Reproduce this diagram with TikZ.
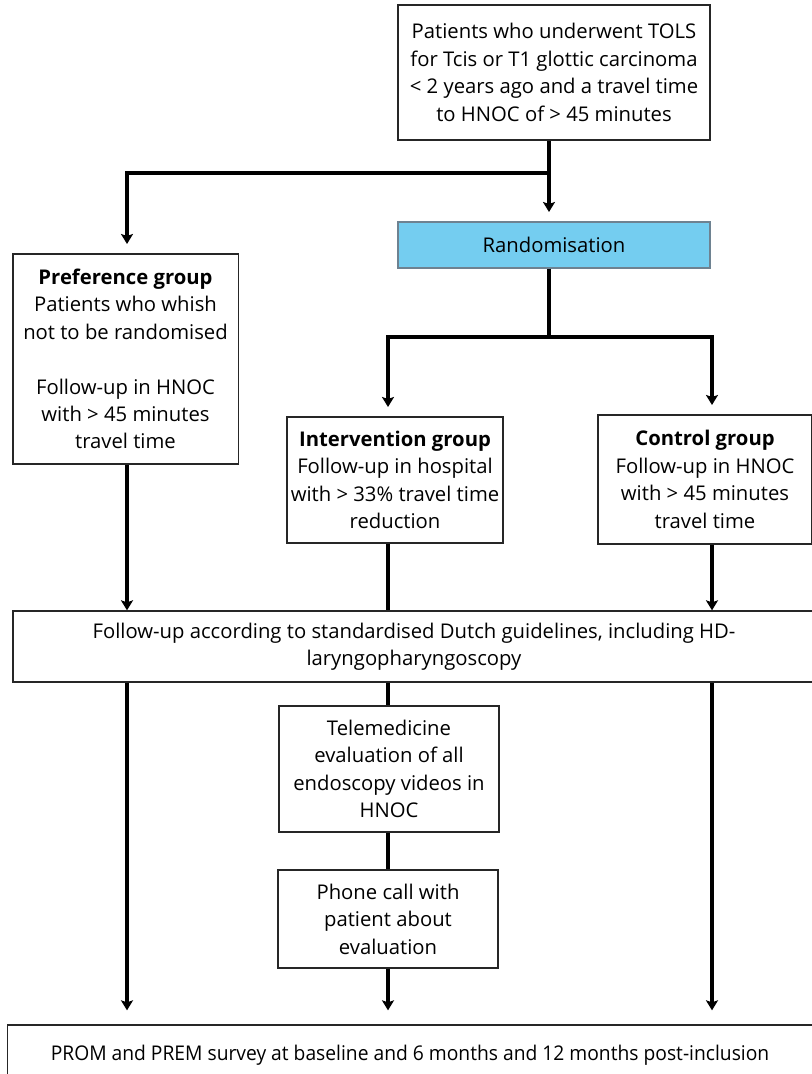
\documentclass[tikz,border=0pt]{standalone}
\usepackage{fontspec}
\setmainfont{Open Sans}
\newfontfamily\condfont{Open Sans}[FakeStretch=0.95]
\usepackage{tikz}
\usetikzlibrary{arrows.meta, positioning, calc}
\definecolor{randblue}{RGB}{116,205,240}
\definecolor{randedge}{RGB}{110,130,145}

\tikzset{
    flowbox/.style={draw=black!85, line width=1pt, align=center, inner sep=0pt,
                    font=\fontsize{15.2}{20.6}\selectfont},
    flowline/.style={line width=2.4pt, black},
    flowarrow/.style={flowline, -{Stealth[length=7.5pt, width=9pt, inset=1.5pt]}, shorten >=7pt},
}

\begin{document}
\begin{tikzpicture}[x=0.75pt, y=-0.75pt]
    \useasboundingbox (0,0) rectangle (812,1074);

    % boxes
    \node[flowbox, minimum width=234pt, minimum height=101pt] (patients) at (554,72.5)
        {Patients who underwent TOLS\\for Tcis or T1 glottic carcinoma\\< 2 years ago and a travel time\\to HNOC of > 45 minutes};
    \node[flowbox, fill=randblue, draw=randedge, minimum width=234pt, minimum height=34.5pt] (rand) at (554,245)
        {Randomisation};
    \node[flowbox, minimum width=169pt, minimum height=157.5pt] (pref) at (125.5,359)
        {\textbf{Preference group}\\Patients who whish\\not to be randomised\\[20.5pt]Follow-up in HNOC\\with > 45 minutes\\travel time};
    \node[flowbox, minimum width=162pt, minimum height=94.5pt] (interv) at (395,480)
        {\textbf{Intervention group}\\Follow-up in hospital\\with > 33\% travel time\\reduction};
    \node[flowbox, minimum width=160.5pt, minimum height=96.75pt] (control) at (705,479.5)
        {\textbf{Control group}\\Follow-up in HNOC\\with > 45 minutes\\travel time};
    \node[flowbox, minimum width=601.5pt, minimum height=53.25pt] (followup) at (414,646.5)
        {Follow-up according to standardised Dutch guidelines, including HD-\\laryngopharyngoscopy};
    \node[flowbox, minimum width=165pt, minimum height=94.5pt] (tele) at (389,769)
        {Telemedicine\\evaluation of all\\endoscopy videos in\\HNOC};
    \node[flowbox, minimum width=165pt, minimum height=73.5pt] (phone) at (388,919)
        {Phone call with\\patient about\\evaluation};
    \node[flowbox, minimum width=603.75pt, minimum height=45pt, font=\condfont\fontsize{15.2}{20.6}\selectfont] (prom) at (410,1055)
        {PROM and PREM survey at baseline and 6 months and 12 months post-inclusion};

    % branch points
    \coordinate (split) at (549,173);
    \coordinate (leftdrop) at (127,173);
    \coordinate (split2) at (549,337);
    \coordinate (intdrop) at (388,337);
    \coordinate (ctrldrop) at (712,337);

    % connectors
    \draw[flowline] (patients.south -| split) -- (split);
    \draw[flowarrow] (split) -- (rand.north -| split);
    \draw[flowarrow] (split) -- (leftdrop) -- (pref.north -| leftdrop);
    \draw[flowline] (rand.south -| split2) -- (split2);
    \draw[flowarrow] (split2) -- (intdrop) -- (interv.north -| intdrop);
    \draw[flowarrow] (split2) -- (ctrldrop) -- (control.north -| ctrldrop);
    \draw[flowarrow, shorten >=0pt] (pref.south -| leftdrop) -- (followup.north -| leftdrop);
    \draw[flowline] (interv.south -| intdrop) -- (followup.north -| intdrop);
    \draw[flowarrow, shorten >=0pt] (control.south -| ctrldrop) -- (followup.north -| ctrldrop);
    \draw[flowline] (followup.south -| intdrop) -- (tele.north -| intdrop);
    \draw[flowline] (tele.south -| intdrop) -- (phone.north -| intdrop);
    \draw[flowarrow, shorten >=10.5pt] (phone.south -| intdrop) -- (prom.north -| intdrop);
    \draw[flowarrow, shorten >=10.5pt] (followup.south -| leftdrop) -- (prom.north -| leftdrop);
    \draw[flowarrow, shorten >=10.5pt] (followup.south -| ctrldrop) -- (prom.north -| ctrldrop);
\end{tikzpicture}
\end{document}
